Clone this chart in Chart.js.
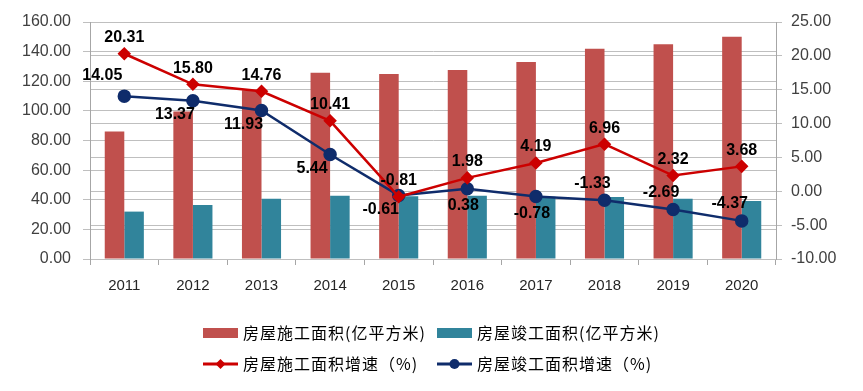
<!DOCTYPE html>
<html lang="zh">
<head>
  <meta charset="UTF-8">
  <title>房屋施工与竣工面积</title>
  <script src="https://cdn.jsdelivr.net/npm/chart.js"></script>
  <style>
    body { margin: 0; background: #fff; }
    #wrap { width: 863px; height: 391px; }
  </style>
</head>
<body>
  <div id="wrap"><canvas id="chart"></canvas></div>
  <script>
    const years = ['2011', '2012', '2013', '2014', '2015', '2016', '2017', '2018', '2019', '2020'];
    const buildArea = [86.0, 99.5, 114.0, 125.8, 124.9, 127.6, 133.0, 142.0, 144.9, 150.0];
    const doneArea = [32.0, 36.5, 40.7, 42.7, 42.3, 42.7, 42.0, 41.9, 40.7, 39.2];
    const buildGrowth = [20.31, 15.80, 14.76, 10.41, -0.81, 1.98, 4.19, 6.96, 2.32, 3.68];
    const doneGrowth = [14.05, 13.37, 11.93, 5.44, -0.61, 0.38, -0.78, -1.33, -2.69, -4.37];
    // where each growth label sits relative to its point
    const buildLabelAt = ['above', 'above', 'above', 'above', 'above', 'above', 'above', 'above', 'above', 'above'];
    const doneLabelAt = ['upleft', 'downleft', 'downleft', 'downleft', 'downleft', 'below', 'below', 'above', 'above', 'above'];

    const legendItems = [
      { text: '房屋施工面积(亿平方米)', type: 'box', color: '#C0504D' },
      { text: '房屋竣工面积(亿平方米)', type: 'box', color: '#31849B' },
      { text: '房屋施工面积增速（%)', type: 'diamond', color: '#CC0000' },
      { text: '房屋竣工面积增速（%)', type: 'circle', color: '#0F2C6B' }
    ];

    const valueLabels = {
      id: 'valueLabels',
      afterDatasetsDraw(chart) {
        const ctx = chart.ctx;
        ctx.save();
        ctx.font = 'bold 16px Arial, "Liberation Sans", sans-serif';
        ctx.fillStyle = '#000';
        ctx.textAlign = 'center';
        ctx.textBaseline = 'middle';
        const sets = [[2, buildGrowth, buildLabelAt], [3, doneGrowth, doneLabelAt]];
        sets.forEach(([idx, vals, at]) => {
          const meta = chart.getDatasetMeta(idx);
          meta.data.forEach((pt, i) => {
            let dx = 0, dy = -16;
            if (at[i] === 'below') { dx = -4; dy = 17; }
            if (at[i] === 'upleft') { dx = -22; dy = -21; }
            if (at[i] === 'downleft') { dx = -18; dy = 14; }
            if (at[i] === 'above' && idx === 3) { dx = -12; dy = -17; }
            ctx.fillText(vals[i].toFixed(2), pt.x + dx, pt.y + dy);
          });
        });
        ctx.restore();
      }
    };

    const bottomLegend = {
      id: 'bottomLegend',
      afterDraw(chart) {
        const ctx = chart.ctx;
        ctx.save();
        ctx.font = '16px "Noto Sans CJK SC", sans-serif';
        ctx.letterSpacing = '1px';
        ctx.textBaseline = 'middle';
        ctx.fillStyle = '#000';
        const cols = [203, 437];
        const rows = [333, 364];
        legendItems.forEach((it, i) => {
          const x = cols[i % 2];
          const y = rows[Math.floor(i / 2)];
          if (it.type === 'box') {
            ctx.fillStyle = it.color;
            ctx.fillRect(x, y - 5, 35, 10);
          } else {
            ctx.strokeStyle = it.color;
            ctx.lineWidth = 3;
            ctx.beginPath();
            ctx.moveTo(x, y);
            ctx.lineTo(x + 35, y);
            ctx.stroke();
            ctx.fillStyle = it.color;
            ctx.beginPath();
            if (it.type === 'circle') {
              ctx.arc(x + 17.5, y, 5, 0, Math.PI * 2);
            } else {
              ctx.moveTo(x + 17.5, y - 5);
              ctx.lineTo(x + 22.5, y);
              ctx.lineTo(x + 17.5, y + 5);
              ctx.lineTo(x + 12.5, y);
              ctx.closePath();
            }
            ctx.fill();
          }
          ctx.fillStyle = '#000';
          ctx.fillText(it.text, x + 40, y);
        });
        ctx.restore();
      }
    };

    const tickFont = { family: 'Arial, "Liberation Sans", sans-serif', size: 16 };

    new Chart(document.getElementById('chart'), {
      type: 'bar',
      data: {
        labels: years,
        datasets: [
          {
            label: '房屋施工面积(亿平方米)',
            data: buildArea,
            backgroundColor: '#C0504D',
            yAxisID: 'y',
            order: 2,
            barPercentage: 1,
            categoryPercentage: 0.57
          },
          {
            label: '房屋竣工面积(亿平方米)',
            data: doneArea,
            backgroundColor: '#31849B',
            yAxisID: 'y',
            order: 2,
            barPercentage: 1,
            categoryPercentage: 0.57
          },
          {
            type: 'line',
            label: '房屋施工面积增速（%)',
            data: buildGrowth,
            borderColor: '#CC0000',
            backgroundColor: '#CC0000',
            borderWidth: 2.5,
            pointStyle: 'rectRot',
            pointRadius: 5,
            yAxisID: 'y1',
            order: 0
          },
          {
            type: 'line',
            label: '房屋竣工面积增速（%)',
            data: doneGrowth,
            borderColor: '#0F2C6B',
            backgroundColor: '#0F2C6B',
            borderWidth: 2.5,
            pointStyle: 'circle',
            pointRadius: 5.5,
            yAxisID: 'y1',
            order: 1
          }
        ]
      },
      options: {
        responsive: true,
        maintainAspectRatio: false,
        animation: false,
        layout: { padding: { top: 22, bottom: 92, left: 0, right: 0 } },
        plugins: {
          legend: { display: false },
          tooltip: { enabled: false }
        },
        scales: {
          x: {
            grid: { drawOnChartArea: false, tickLength: 6, color: '#A6A6A6', offset: true },
            border: { display: false },
            ticks: { font: { family: tickFont.family, size: 15 }, color: '#262626', padding: 12 },
            afterFit(s) { s.height = 40; }
          },
          y: {
            position: 'left',
            min: 0,
            max: 160,
            grid: { color: '#BFBFBF', tickLength: 7 },
            border: { color: '#A6A6A6' },
            ticks: {
              stepSize: 20,
              font: tickFont,
              color: '#404040',
              padding: 12,
              callback: v => v.toFixed(2)
            },
            afterFit(s) { s.width = 90; }
          },
          y1: {
            position: 'right',
            min: -10,
            max: 25,
            grid: { color: '#BFBFBF', tickLength: 6 },
            border: { color: '#A6A6A6' },
            ticks: {
              stepSize: 5,
              font: tickFont,
              color: '#404040',
              padding: 9,
              callback: v => v.toFixed(2)
            },
            afterFit(s) { s.width = 87; }
          }
        }
      },
      plugins: [valueLabels, bottomLegend]
    });
  </script>
</body>
</html>
